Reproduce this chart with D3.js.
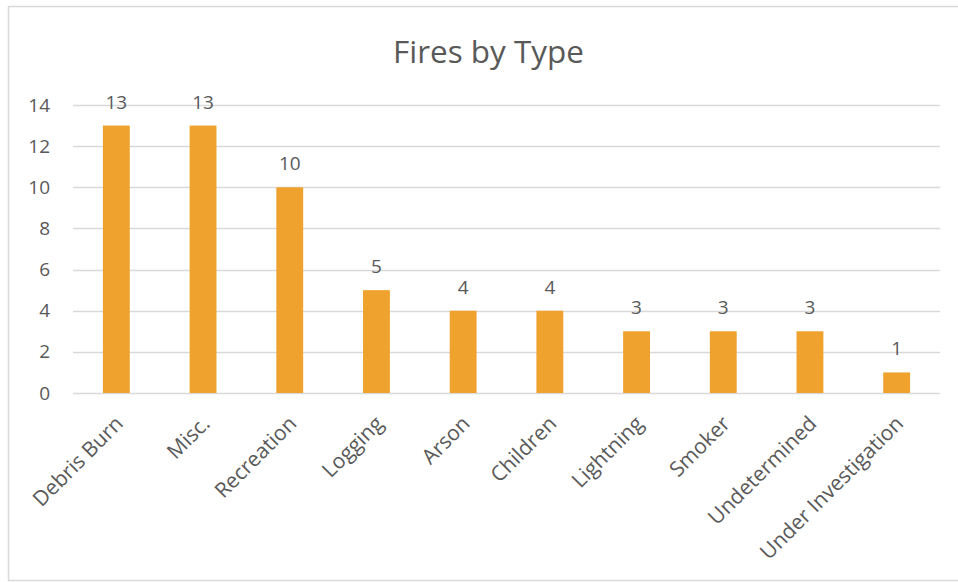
<!DOCTYPE html>
<html>
<head>
<meta charset="utf-8">
<script src="https://cdn.jsdelivr.net/npm/d3@7"></script>
<style>
  html, body { margin: 0; padding: 0; background: #fff; }
  svg { display: block; }
  text { font-family: "Open Sans", "Noto Sans", sans-serif; fill: #595959; }
</style>
</head>
<body>
<script>
const categories = ["Debris Burn", "Misc.", "Recreation", "Logging", "Arson", "Children", "Lightning", "Smoker", "Undetermined", "Under Investigation"];
const values = [13, 13, 10, 5, 4, 4, 3, 3, 3, 1];
const yTicks = [0, 2, 4, 6, 8, 10, 12, 14];
const title = "Fires by Type";

const W = 958, H = 582;
const plot = { left: 73, right: 940, top: 105, bottom: 393 };

const svg = d3.select("body").append("svg").attr("width", W).attr("height", H);

// chart border
svg.append("rect")
  .attr("x", 8.5).attr("y", 6.5).attr("width", W + 10).attr("height", 574)
  .attr("fill", "#fff").attr("stroke", "#D9D9D9").attr("stroke-width", 1.5);

const x = d3.scaleBand().domain(categories).range([plot.left, plot.right]).paddingInner(0.69).paddingOuter(0.345);
const y = d3.scaleLinear().domain([0, 14]).range([plot.bottom, plot.top]);

// gridlines
svg.append("g").selectAll("line").data(yTicks).join("line")
  .attr("x1", plot.left).attr("x2", plot.right)
  .attr("y1", d => Math.round(y(d)) + 0.5).attr("y2", d => Math.round(y(d)) + 0.5)
  .attr("stroke", "#D9D9D9").attr("stroke-width", 1.5);

// y axis labels
const yAxis = d3.axisLeft(y).tickValues(yTicks).tickSize(0).tickPadding(23);
const gy = svg.append("g").attr("transform", `translate(${plot.left},0)`).call(yAxis);
gy.select(".domain").remove();
gy.selectAll("text").attr("font-size", 19).attr("fill", "#595959")
  .style("font-family", '"Open Sans", sans-serif');

// bars
svg.append("g").selectAll("rect").data(values).join("rect")
  .attr("x", (d, i) => x(categories[i]))
  .attr("width", x.bandwidth())
  .attr("y", d => y(d))
  .attr("height", d => y(0) - y(d))
  .attr("fill", "#F0A22E");

// value labels
svg.append("g").selectAll("text").data(values).join("text")
  .attr("x", (d, i) => x(categories[i]) + x.bandwidth() / 2)
  .attr("y", d => y(d) - 17)
  .attr("text-anchor", "middle")
  .attr("font-size", 19)
  .text(d => d);

// x axis labels (rotated)
svg.append("g").selectAll("text").data(categories).join("text")
  .attr("transform", d => `translate(${x(d) + x.bandwidth() / 2 + 8},${plot.bottom + 32}) rotate(-45)`)
  .attr("text-anchor", "end")
  .attr("font-size", 21)
  .text(d => d);

// title
const t = svg.append("text")
  .attr("x", 488.5).attr("y", 62.5)
  .attr("text-anchor", "middle")
  .attr("font-size", 30)
  .text(title);
const tw = t.node().getComputedTextLength();
t.attr("font-size", 30 * 191 / tw);
</script>
</body>
</html>
